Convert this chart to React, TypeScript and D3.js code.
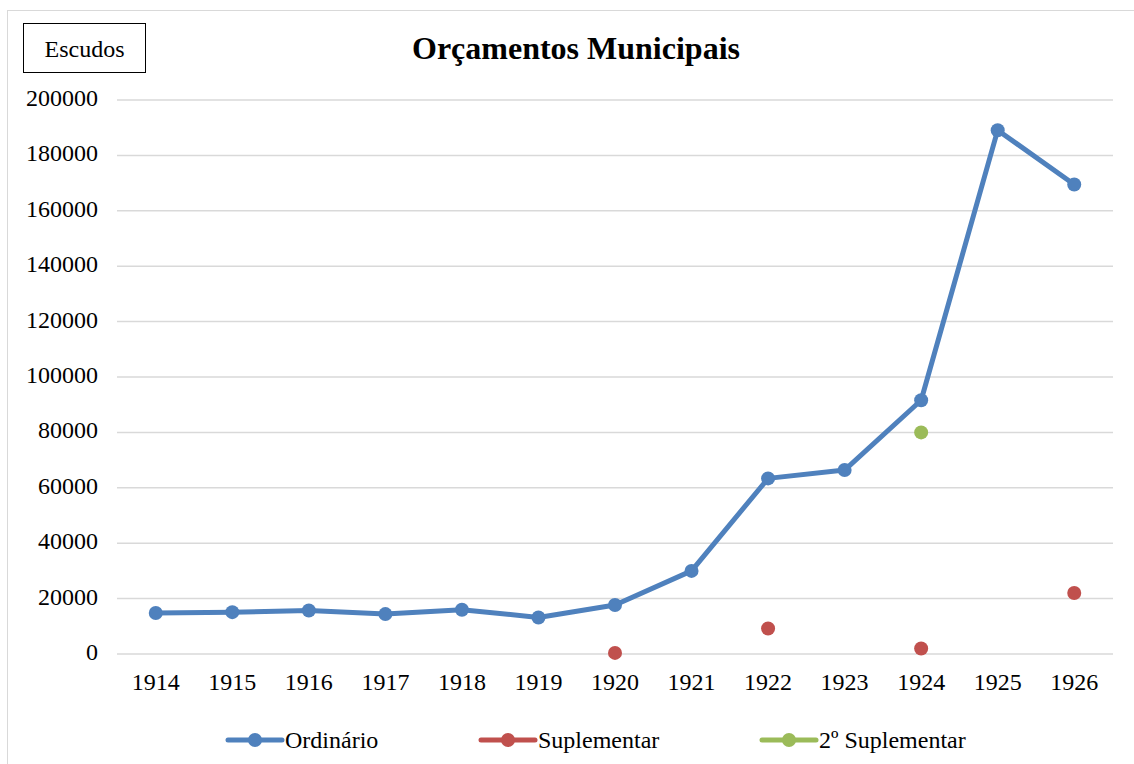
import React, { useEffect, useRef } from "react";
import * as d3 from "d3";

const years = ["1914", "1915", "1916", "1917", "1918", "1919", "1920", "1921", "1922", "1923", "1924", "1925", "1926"];
const ordinario = [14800, 15100, 15700, 14400, 16000, 13200, 17700, 30000, 63400, 66400, 91600, 189100, 169500];
const suplementar = [null, null, null, null, null, null, 400, null, 9200, null, 2000, null, 22000];
const segundoSuplementar = [null, null, null, null, null, null, null, null, null, null, 80000, null, null];
const yTicks = [0, 20000, 40000, 60000, 80000, 100000, 120000, 140000, 160000, 180000, 200000];

const series = [
  { name: "Ordinário", values: ordinario, color: "#4F81BD", line: true },
  { name: "Suplementar", values: suplementar, color: "#C0504D", line: false },
  { name: "2º Suplementar", values: segundoSuplementar, color: "#9BBB59", line: false },
];

const App = () => {
  const svgRef = useRef<SVGSVGElement>(null);

  useEffect(() => {
    const w = 1134;
    const h = 764;
    const svg = d3.select(svgRef.current).attr("width", w).attr("height", h);
    svg.selectAll("*").remove();
    const font = "'Liberation Serif', 'Times New Roman', serif";

    svg
      .append("rect")
      .attr("x", 7.5)
      .attr("y", 10.5)
      .attr("width", 1140)
      .attr("height", 780)
      .attr("fill", "#fff")
      .attr("stroke", "#d9d9d9");

    const x = d3.scaleBand().domain(years).range([117.5, 1112.5]);
    const y = d3.scaleLinear().domain([0, 200000]).range([654, 100]);

    // grid
    svg
      .append("g")
      .selectAll("line")
      .data(yTicks)
      .join("line")
      .attr("x1", 117)
      .attr("x2", 1113)
      .attr("y1", (d) => y(d))
      .attr("y2", (d) => y(d))
      .attr("stroke", "#d9d9d9")
      .attr("stroke-width", 1.5);

    // y labels
    svg
      .append("g")
      .selectAll("text")
      .data(yTicks)
      .join("text")
      .attr("x", 98)
      .attr("y", (d) => y(d) + 6)
      .attr("text-anchor", "end")
      .attr("font-family", font)
      .attr("font-size", 24)
      .attr("fill", "#000")
      .text((d) => String(d));

    // x labels
    svg
      .append("g")
      .selectAll("text")
      .data(years)
      .join("text")
      .attr("x", (d) => x(d)! + x.bandwidth() / 2)
      .attr("y", 690)
      .attr("text-anchor", "middle")
      .attr("font-family", font)
      .attr("font-size", 24)
      .attr("fill", "#000")
      .text((d) => d);

    const cx = (i: number) => x(years[i])! + x.bandwidth() / 2;

    series.forEach((s) => {
      const pts = s.values
        .map((v, i) => ({ v, i }))
        .filter((p) => p.v !== null) as { v: number; i: number }[];
      if (s.line) {
        const line = d3
          .line<{ v: number; i: number }>()
          .x((p) => cx(p.i))
          .y((p) => y(p.v));
        svg
          .append("path")
          .datum(pts)
          .attr("d", line)
          .attr("fill", "none")
          .attr("stroke", s.color)
          .attr("stroke-width", 5)
          .attr("stroke-linejoin", "round");
      }
      svg
        .append("g")
        .selectAll("circle")
        .data(pts)
        .join("circle")
        .attr("cx", (p) => cx(p.i))
        .attr("cy", (p) => y(p.v))
        .attr("r", 7)
        .attr("fill", s.color);
    });

    // title
    svg
      .append("text")
      .attr("x", 576)
      .attr("y", 59)
      .attr("text-anchor", "middle")
      .attr("font-family", font)
      .attr("font-size", 32)
      .attr("font-weight", "bold")
      .text("Orçamentos Municipais");

    // units box
    svg
      .append("rect")
      .attr("x", 23.5)
      .attr("y", 23.5)
      .attr("width", 122)
      .attr("height", 49)
      .attr("fill", "#fff")
      .attr("stroke", "#000")
      .attr("stroke-width", 1);
    svg
      .append("text")
      .attr("x", 84.5)
      .attr("y", 57)
      .attr("text-anchor", "middle")
      .attr("font-family", font)
      .attr("font-size", 24)
      .text("Escudos");

    // legend
    const legendX = [228, 481, 762];
    const legend = svg
      .append("g")
      .selectAll("g")
      .data(series)
      .join("g")
      .attr("transform", (d, i) => `translate(${legendX[i]},740)`);
    legend
      .append("line")
      .attr("x1", 0)
      .attr("x2", 54)
      .attr("stroke", (d) => d.color)
      .attr("stroke-width", 5)
      .attr("stroke-linecap", "round");
    legend
      .append("circle")
      .attr("cx", 27)
      .attr("r", 7)
      .attr("fill", (d) => d.color);
    legend
      .append("text")
      .attr("x", 57)
      .attr("y", 8)
      .attr("font-family", font)
      .attr("font-size", 24)
      .text((d) => d.name);
  }, []);

  return <svg ref={svgRef} style={{ position: "absolute", left: 0, top: 0 }}></svg>;
};

export default App;
